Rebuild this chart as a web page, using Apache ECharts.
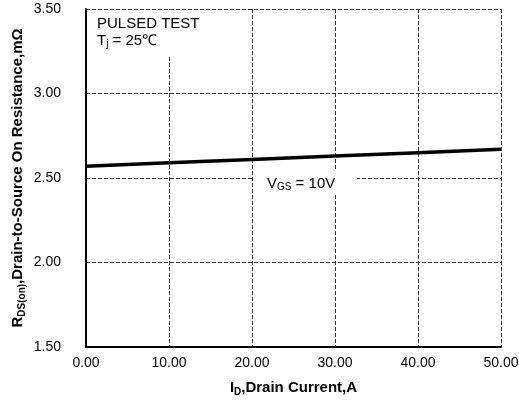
<!DOCTYPE html>
<html><head><meta charset="utf-8">
<script src="https://cdn.jsdelivr.net/npm/echarts@6/dist/echarts.min.js"></script>
<style>html,body{margin:0;padding:0;background:#fff}#c{width:519px;height:404px}</style>
</head><body><div id="c"></div>
<script>
const currentA = [0, 10, 20, 30, 40, 50];
const rdsOn = [2.57, 2.59, 2.61, 2.63, 2.65, 2.67];
const xRange = [0, 50, 10];
const yRange = [1.5, 3.5, 0.5];
const annoTest = ['PULSED TEST', 'T', 'j', ' = 25℃'];
const annoVgs = ['V', 'GS', ' = 10V'];

const FONT = '"Liberation Sans", Arial, sans-serif';
const chart = echarts.init(document.getElementById('c'));
const grid = {left: 86, right: 18, top: 9, bottom: 57, containLabel: false, outerBoundsMode: 'none'};
const splitStyle = {show: true, lineStyle: {color: '#333', width: 1, type: [4, 2]}};
const nameRich = {
  b: {fontSize: 15, fontWeight: 'bold', fontFamily: FONT, color: '#000', lineHeight: 18, verticalAlign: 'middle'},
  s: {fontSize: 10, fontWeight: 'bold', fontFamily: FONT, color: '#000', lineHeight: 10, verticalAlign: 'bottom'}
};
chart.setOption({
  animation: false,
  backgroundColor: '#fff',
  grid: grid,
  xAxis: {
    type: 'value', min: xRange[0], max: xRange[1], interval: xRange[2],
    axisLine: {show: true, onZero: false, lineStyle: {color: '#000', width: 2}},
    axisTick: {show: false},
    splitLine: splitStyle,
    axisLabel: {color: '#000', fontSize: 14, fontFamily: FONT, margin: 9, formatter: v => v.toFixed(2)},
    name: '{b|I}{s|D}{b|,Drain Current,A}',
    nameLocation: 'middle', nameGap: 32, nameMoveOverlap: false,
    nameTextStyle: {rich: nameRich}
  },
  yAxis: {
    type: 'value', min: yRange[0], max: yRange[1], interval: yRange[2],
    axisLine: {show: true, onZero: false, lineStyle: {color: '#000', width: 2}},
    axisTick: {show: false},
    splitLine: splitStyle,
    axisLabel: {color: '#000', fontSize: 14, fontFamily: FONT, margin: 25, formatter: v => v.toFixed(2)},
    name: '{b|R}{s|DS(on)}{b|,Drain-to-Source On Resistance,mΩ}',
    nameLocation: 'middle', nameGap: 59, nameMoveOverlap: false,
    nameTextStyle: {rich: nameRich}
  },
  graphic: [
    {type: 'rect', z: 1, silent: true, shape: {x: 88, y: 10, width: 157, height: 47}, style: {fill: '#fff'}},
    {type: 'text', z: 2, left: 97, top: 16, style: {
      text: '{n|' + annoTest[0] + '}\n{n|' + annoTest[1] + '}{s|' + annoTest[2] + '}{n|' + annoTest[3] + '}',
      rich: {
        n: {fontSize: 15, fontFamily: FONT, fill: '#000', lineHeight: 17, verticalAlign: 'middle'},
        s: {fontSize: 10, fontFamily: FONT, fill: '#000', lineHeight: 10, verticalAlign: 'bottom'}
      }}},
    {type: 'rect', z: 1, silent: true, shape: {x: 253, y: 170, width: 104, height: 23}, style: {fill: '#fff'}},
    {type: 'text', z: 2, left: 267, top: 176, style: {
      text: '{n|' + annoVgs[0] + '}{s|' + annoVgs[1] + '}{n|' + annoVgs[2] + '}',
      rich: {
        n: {fontSize: 15, fontFamily: FONT, fill: '#000', lineHeight: 17, verticalAlign: 'middle'},
        s: {fontSize: 10, fontFamily: FONT, fill: '#000', lineHeight: 10, verticalAlign: 'bottom'}
      }}}
  ],
  series: [{
    type: 'line', z: 5,
    data: currentA.map((x, i) => [x, rdsOn[i]]),
    symbol: 'none',
    lineStyle: {color: '#000', width: 3.5}
  }]
});
</script></body></html>
